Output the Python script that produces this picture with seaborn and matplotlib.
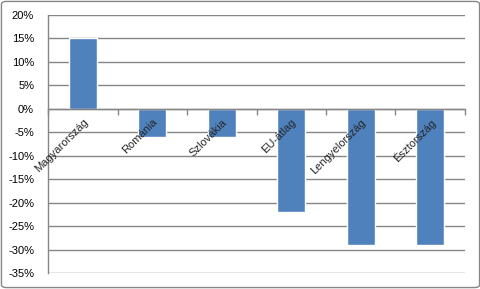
import matplotlib
matplotlib.use("Agg")
import matplotlib.pyplot as plt
import seaborn as sns
import pandas as pd
from matplotlib.ticker import FixedLocator, MultipleLocator, FuncFormatter
from matplotlib.patches import FancyBboxPatch

categories = ["Magyarország", "Románia", "Szlovákia", "EU-átlag", "Lengyelország", "Észtország"]
values = [15, -6, -6, -22, -29, -29]

df = pd.DataFrame({"cat": categories, "val": values})

sns.set_theme(style="white")
plt.rcParams["font.family"] = ["Liberation Sans", "DejaVu Sans"]

fig = plt.figure(figsize=(4.81, 2.89), dpi=100)
ax = fig.add_axes([48/481, 1 - 273/289, (465-48)/481, (273-15)/289])

sns.barplot(data=df, x="cat", y="val", color="#4F81BD", saturation=1, width=0.4, ax=ax, zorder=3)

ax.set_ylim(-35, 20)
ax.set_xlim(-0.5, len(categories) - 0.5)
ax.yaxis.set_major_locator(MultipleLocator(5))
ax.yaxis.set_major_formatter(FuncFormatter(lambda v, p: f"{int(round(v))}%"))
ax.yaxis.grid(True, color="#868686", linewidth=1)
ax.set_axisbelow(True)
ax.xaxis.set_zorder(5)
ax.set_xlabel("")
ax.set_ylabel("")

for s in ["top", "right"]:
    ax.spines[s].set_visible(False)
ax.spines["left"].set_color("#868686")
ax.spines["left"].set_linewidth(1)
ax.spines["bottom"].set_position(("data", 0))
ax.spines["bottom"].set_color("#868686")
ax.spines["bottom"].set_linewidth(1)
ax.spines["bottom"].set_zorder(4)

ax.xaxis.set_minor_locator(FixedLocator([i - 0.5 for i in range(len(categories) + 1)]))
ax.tick_params(axis="x", which="minor", length=4, color="#868686", width=1, direction="out", bottom=True)
ax.tick_params(axis="x", which="major", length=0, pad=6, labelsize=8)
ax.tick_params(axis="y", which="major", length=0, pad=10, labelsize=8, labelcolor="black")
ax.set_xticks(range(len(categories)))
ax.set_xticklabels(categories, rotation=45, ha="right", va="top", rotation_mode="anchor")

fig.patches.append(FancyBboxPatch((0.003, 0.005), 0.994, 0.99, boxstyle="round,pad=0,rounding_size=0.01",
                                  transform=fig.transFigure, fill=False, edgecolor="#868686", linewidth=1))

fig.savefig("out.png", dpi=100)
